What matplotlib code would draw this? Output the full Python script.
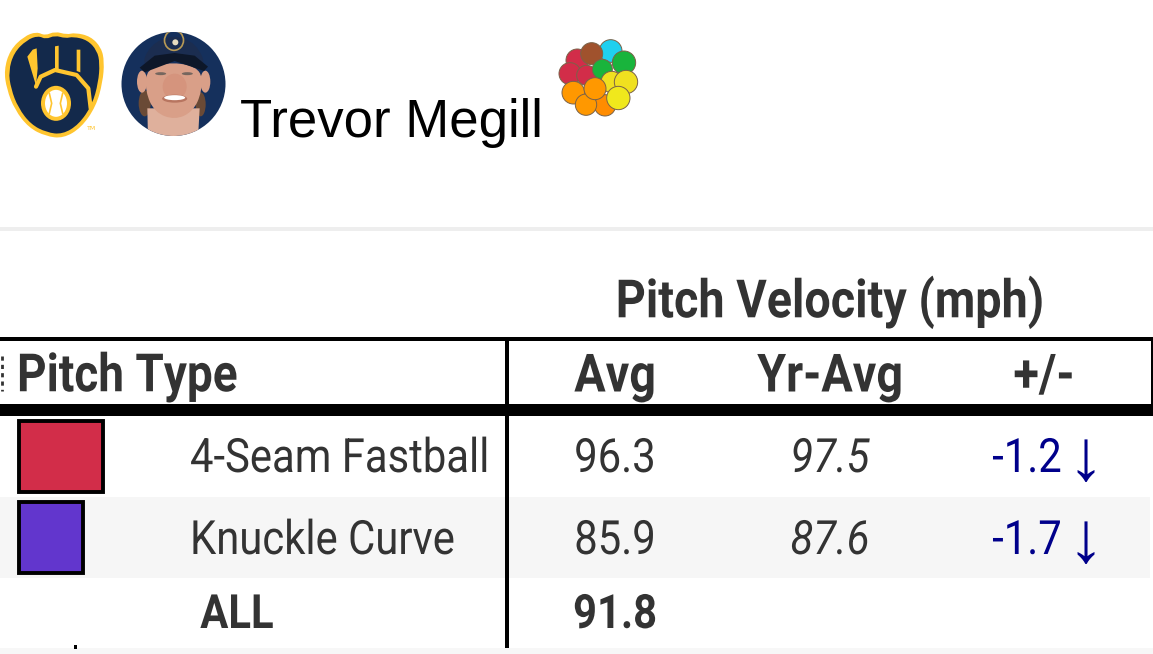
# Pitch velocity table for Trevor Megill
import matplotlib
matplotlib.use('Agg')
import matplotlib.pyplot as plt
from matplotlib.patches import Rectangle, Ellipse, Circle, Polygon, PathPatch
from matplotlib.path import Path
from matplotlib.patheffects import AbstractPathEffect
from matplotlib.transforms import Affine2D

player = 'Trevor Megill'
table_title = 'Pitch Velocity (mph)'
headers = ['Pitch Type', 'Avg', 'Yr-Avg', '+/-']
pitches = ['4-Seam Fastball', 'Knuckle Curve']
usage = [0.567, 0.433]
swatch_colors = ['#d22d49', '#6236cd']
avg = ['96.3', '85.9']
yr_avg = ['97.5', '87.6']
diff = ['-1.2', '-1.7']
all_label = 'ALL'
all_avg = '91.8'

DARK = '#333333'
NAVY = '#00008b'
TEAM = '#13294b'
GOLD = '#ffc52f'

fig = plt.figure(figsize=(11.53, 6.54), dpi=100)
ax = fig.add_axes([0, 0, 1, 1])
ax.set_xlim(0, 1153)
ax.set_ylim(654, 0)
ax.axis('off')


# squeezes a text sideways around a pixel x, there is no condensed font here
class Squeeze(AbstractPathEffect):
    def __init__(self, anchor, sx):
        super().__init__()
        self.anchor = anchor
        self.sx = sx

    def draw_path(self, renderer, gc, tpath, affine, rgbFace=None):
        squeeze = Affine2D().translate(-self.anchor, 0).scale(self.sx, 1).translate(self.anchor, 0)
        renderer.draw_path(gc, tpath, affine + squeeze, rgbFace)


def narrow(x, y, s, size, sx=0.885, ha='center', **kw):
    kw.setdefault('color', DARK)
    t = ax.text(x, y, s, fontsize=size, family='Roboto', ha=ha, va='center', **kw)
    t.set_path_effects([Squeeze(x, sx)])
    return t


def rect(x0, y0, x1, y1, color, z=1):
    ax.add_patch(Rectangle((x0, y0), x1 - x0, y1 - y0, fc=color, ec='none', zorder=z))


# closed smooth outline through the midpoints of the given points
def smooth(points):
    n = len(points)
    mid = lambda a, b: ((a[0] + b[0]) / 2, (a[1] + b[1]) / 2)
    verts = [mid(points[-1], points[0])]
    codes = [Path.MOVETO]
    for i in range(n):
        verts += [points[i], mid(points[i], points[(i + 1) % n])]
        codes += [Path.CURVE3, Path.CURVE3]
    return Path(verts, codes)


# brewers glove logo, points read in a crop 3x from (0, 25)
def glove():
    z = lambda x, y: (x / 3, y / 3 + 25)
    outer = [(12, 135), (30, 75), (72, 34), (110, 20), (135, 32), (165, 19), (200, 29), (225, 23),
             (272, 34), (304, 68), (313, 110), (308, 172), (288, 244), (244, 308), (190, 340),
             (138, 334), (86, 308), (44, 254), (20, 192)]
    ax.add_patch(PathPatch(smooth([z(*p) for p in outer]), fc=GOLD, ec='none', zorder=3))
    cx, cy = 162, 180
    inner = [(cx + (x - cx) * 0.91, cy + (y - cy) * 0.925) for x, y in outer]
    ax.add_patch(PathPatch(smooth([z(*p) for p in inner]), fc=TEAM, ec='none', zorder=4))
    ax.add_patch(Polygon([z(82, 95), z(98, 74), z(110, 70), z(113, 130), z(108, 182)], closed=True,
                         fc=GOLD, ec='none', zorder=5))
    ax.add_patch(Polygon([z(165, 64), z(176, 62), z(176, 132), z(165, 132)], closed=True, fc=GOLD, ec='none', zorder=5))
    ax.add_patch(Polygon([z(230, 74), z(241, 74), z(241, 142), z(230, 138)], closed=True, fc=GOLD, ec='none', zorder=5))
    curve = [z(108, 185), z(122, 155), z(165, 135), z(230, 150), z(265, 190), z(272, 250)]
    ax.plot([p[0] for p in curve], [p[1] for p in curve], color=GOLD, lw=3, zorder=5, solid_capstyle='round')
    ax.add_patch(Ellipse(z(168, 235), 30, 35, fc=GOLD, ec='none', zorder=5))
    ax.add_patch(Ellipse(z(168, 235), 22, 27, fc='white', ec='none', zorder=6))
    for side in (-1, 1):
        seam = [z(168 + side * 20, 205), z(168 + side * 13, 235), z(168 + side * 20, 265)]
        ax.plot([p[0] for p in seam], [p[1] for p in seam], color=GOLD, lw=1.2, zorder=7)
    ax.text(*z(276, 311), 'TM', fontsize=4.5, color=GOLD, ha='center', va='center', zorder=7)


# player headshot, points read in a crop 3x from (118, 25)
def headshot():
    z = lambda x, y: (x / 3 + 118, y / 3 + 25)
    clip = Circle((173.5, 84), 52, transform=ax.transData)
    ax.add_patch(Circle((173.5, 84), 52, fc='#15305c', ec='none', zorder=3))
    skin = '#d99f88'
    parts = [
        Ellipse(z(80, 235), 12, 26, fc='#6a4a36', ec='none', zorder=4),
        Ellipse(z(248, 238), 10, 24, fc='#6a4a36', ec='none', zorder=4),
        Polygon([z(88, 250), z(245, 250), z(240, 340), z(90, 340)], closed=True, fc='#dfb09c', ec='none', zorder=4),
        Ellipse(z(72, 170), 10, 22, fc=skin, ec='none', zorder=4),
        Ellipse(z(262, 170), 10, 22, fc=skin, ec='none', zorder=4),
        PathPatch(smooth([z(85, 130), z(165, 110), z(250, 130), z(252, 200), z(225, 260), z(170, 285), z(110, 262), z(82, 200)]),
                  fc=skin, ec='none', zorder=5),
        Ellipse(z(170, 185), 24, 26, fc='#d5947d', ec='none', zorder=5),
        Ellipse(z(128, 146), 11, 3, fc='#75665e', ec='none', zorder=6),
        Ellipse(z(208, 146), 11, 3, fc='#75665e', ec='none', zorder=6),
        Ellipse(z(170, 221), 25, 8, fc='#b87560', ec='none', zorder=6),
        Ellipse(z(170, 218), 21, 5, fc='white', ec='none', zorder=7),
        PathPatch(smooth([z(68, 130), z(95, 60), z(165, 28), z(235, 55), z(268, 130), z(170, 95)]),
                  fc='#1b2d50', ec='none', zorder=6),
        Polygon([z(65, 128), z(110, 92), z(170, 84), z(230, 92), z(270, 125), z(258, 138), z(170, 108), z(80, 142)],
                closed=True, fc='#0d1729', ec='none', zorder=7),
        Ellipse(z(168, 46), 19, 20, fc='none', ec='#b89a55', lw=1.2, zorder=8),
        Ellipse(z(172, 52), 6, 6, fc='#e8dcc0', ec='none', zorder=8),
    ]
    for p in parts:
        ax.add_patch(p)
        p.set_clip_path(clip)


# pitch colour cluster, points read in a crop 3x from (550, 32)
def cluster():
    blobs = [(82, 85, 34, '#d22d49'), (60, 125, 33, '#d22d49'), (110, 130, 30, '#d22d49'),
             (182, 57, 34, '#1fd0ef'), (125, 65, 33, '#a0522d'), (157, 112, 30, '#19b43c'),
             (222, 92, 35, '#19b43c'), (185, 150, 32, '#f0e020'), (228, 150, 35, '#f0e020'),
             (165, 220, 32, '#ff8c00'), (70, 182, 34, '#ff9800'), (108, 218, 32, '#ff9800'),
             (135, 170, 33, '#ff9800'), (205, 198, 35, '#f0e81c')]
    for i, (x, y, r, c) in enumerate(blobs):
        ax.add_patch(Circle((x / 3 + 550, y / 3 + 32), r / 3, fc=c, ec='#7a6248', lw=0.7, zorder=3 + i))


glove()
headshot()
cluster()
ax.text(240, 122.5, player, fontsize=38, family='Liberation Sans', color='black', ha='left', va='center')
rect(0, 227, 1153, 231, '#eeeeee')

# table frame and banding
narrow(830, 302, table_title, 38, weight='bold')
rect(0, 497, 1150, 578, '#f6f6f6')
rect(0, 648, 1153, 654, '#f7f7f7')
rect(0, 337, 1153, 341, 'black', 3)
rect(0, 404, 1153, 416, 'black', 3)
rect(505, 341, 508.5, 648, 'black', 3)
rect(1151, 341, 1153, 404, 'black', 3)
rect(74, 645, 77, 649, 'black', 3)
ax.plot([1.5, 1.5], [356, 391], color=DARK, lw=2, ls=(0, (1.5, 1.5)), zorder=3)

# header row
header_x = [17, 615, 830, 1044]
for i, h in enumerate(headers):
    narrow(header_x[i], 377, h, 38, sx=0.87 if i == 0 else 0.885, ha='left' if i == 0 else 'center', weight='bold')

# pitch rows
row_y = [459, 541]
swatch_top = [419, 500]
for i, name in enumerate(pitches):
    y = row_y[i]
    width = usage[i] * 155
    ax.add_patch(Rectangle((18.5, swatch_top[i] + 1.5), width - 3, 71, fc=swatch_colors[i], ec='black', lw=2.8, zorder=3))
    narrow(190, y, name, 34, ha='left')
    narrow(615, y, avg[i], 34)
    narrow(830, y, yr_avg[i], 34, style='italic')
    narrow(1027, y, diff[i], 34, color=NAVY)
    ax.text(1086, y + 4, '\u2193', fontsize=52, family=['Liberation Serif', 'DejaVu Sans'], color=NAVY, ha='center', va='center')

# total row
narrow(237, 615, all_label, 34, weight='bold')
narrow(615, 615, all_avg, 34, weight='bold')

fig.savefig('out.png', dpi=100)
